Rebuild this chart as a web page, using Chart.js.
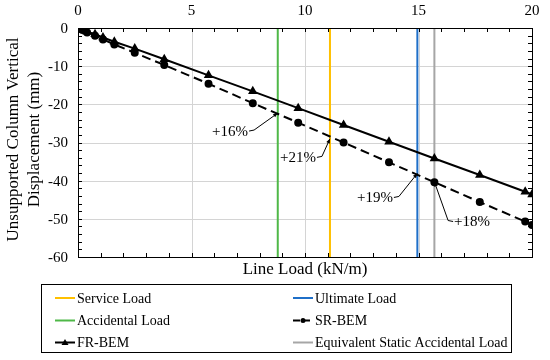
<!DOCTYPE html>
<html>
<head>
<meta charset="utf-8">
<script src="https://cdn.jsdelivr.net/npm/chart.js@4.4.0/dist/chart.umd.min.js"></script>
<style>
  html, body { margin: 0; padding: 0; background: #fff; }
  #wrap { width: 550px; height: 360px; }
</style>
</head>
<body>
<div id="wrap"><canvas id="chart" width="550" height="360"></canvas></div>
<script>
// line load (kN/m) at each analysis step
const loadSteps = [0, 0.1, 0.2, 0.4, 0.75, 1.1, 1.6, 2.5, 3.8, 5.75, 7.7, 9.7, 11.7, 13.7, 15.7, 17.7, 19.7, 20];
// vertical displacement (mm)
const frBem = [0, -0.2, -0.45, -0.95, -1.65, -2.5, -3.6, -5.4, -8.2, -12.4, -16.6, -21.0, -25.4, -29.8, -34.2, -38.5, -42.9, -43.6];
const srBem = [0, -0.25, -0.55, -1.15, -2.0, -3.0, -4.3, -6.5, -9.7, -14.6, -19.7, -24.8, -30.0, -35.2, -40.4, -45.6, -50.7, -51.6];

// reference load levels (kN/m)
const refNames = ['Service Load', 'Ultimate Load', 'Accidental Load', 'Equivalent Static Accidental Load'];
const refLoads = [11.1, 14.95, 8.8, 15.7];
const refColors = ['#ffc000', '#1f6fc8', '#4fb848', '#a6a6a6'];

const xTicks = [0, 5, 10, 15, 20];
const yTicks = [0, -10, -20, -30, -40, -50, -60];

// percentage call-outs: label, target point on SR-BEM, label anchor
const noteText = ['+16%', '+21%', '+19%', '+18%'];
const noteTargetX = [8.8, 11.1, 14.95, 15.7];
const noteTargetY = [-22.3, -29.0, -38.1, -40.3];
const noteLabelX = [6.7, 9.69, 13.08, 17.36];
const noteLabelY = [-27.0, -33.9, -44.4, -50.7];
const noteSide = ['left', 'left', 'left', 'right'];

const FONT = "'Liberation Serif', 'Times New Roman', serif";

const pts = (ys) => loadSteps.map((x, i) => ({x: x, y: ys[i]}));
const vline = (x) => [{x: x, y: 0}, {x: x, y: -60}];

const datasets = [
  {label: 'FR-BEM', data: pts(frBem), showLine: true, borderColor: '#000', backgroundColor: '#000',
    borderWidth: 2, pointStyle: 'triangle', pointRadius: 3.5, order: 1},
  {label: 'SR-BEM', data: pts(srBem), showLine: true, borderColor: '#000', backgroundColor: '#000',
    borderWidth: 2, borderDash: [9, 5], pointStyle: 'circle', pointRadius: 3, order: 2}
];
refNames.forEach((name, i) => {
  datasets.push({label: name, data: vline(refLoads[i]), showLine: true, borderColor: refColors[i],
    borderWidth: 2, pointRadius: 0, order: 10 + i});
});

// grid (behind everything), tick marks, tick labels and frame, placed through the chart's scales
function drawAxes(chart) {
  const {ctx, chartArea: a} = chart;
  const sx = chart.scales.x, sy = chart.scales.y;
  ctx.save();
  ctx.lineWidth = 1;
  ctx.globalCompositeOperation = 'destination-over';
  ctx.strokeStyle = '#d4d4d4';
  ctx.beginPath();
  xTicks.forEach(v => {
    const px = Math.round(sx.getPixelForValue(v)) + 0.5;
    ctx.moveTo(px, a.top); ctx.lineTo(px, a.bottom);
  });
  yTicks.forEach(v => {
    const py = Math.round(sy.getPixelForValue(v)) + 0.5;
    ctx.moveTo(a.left, py); ctx.lineTo(a.right, py);
  });
  ctx.stroke();
  ctx.globalCompositeOperation = 'source-over';

  ctx.strokeStyle = '#000';
  ctx.beginPath();
  for (let v = 0; v <= 20; v++) {
    const px = Math.round(sx.getPixelForValue(v)) + 0.5;
    ctx.moveTo(px, a.top); ctx.lineTo(px, a.top + 4);
    ctx.moveTo(px, a.bottom); ctx.lineTo(px, a.bottom - 4);
  }
  for (let v = 0; v >= -60; v -= 2) {
    const py = Math.round(sy.getPixelForValue(v)) + 0.5;
    ctx.moveTo(a.left, py); ctx.lineTo(a.left + 4, py);
    ctx.moveTo(a.right, py); ctx.lineTo(a.right - 4, py);
  }
  ctx.stroke();
  ctx.strokeRect(Math.round(a.left) + 0.5, Math.round(a.top) + 0.5,
    Math.round(a.right - a.left), Math.round(a.bottom - a.top));

  ctx.fillStyle = '#000';
  ctx.font = '15px ' + FONT;
  ctx.textAlign = 'center';
  ctx.textBaseline = 'alphabetic';
  xTicks.forEach(v => ctx.fillText(String(v), sx.getPixelForValue(v), a.top - 13));
  ctx.textAlign = 'right';
  ctx.textBaseline = 'middle';
  yTicks.forEach(v => ctx.fillText(String(v), a.left - 10, sy.getPixelForValue(v) + 1));
  ctx.restore();
}

function drawTitles(chart) {
  const {ctx, chartArea: a} = chart;
  ctx.save();
  ctx.fillStyle = '#000';
  ctx.font = '17px ' + FONT;
  ctx.textAlign = 'center';
  ctx.textBaseline = 'middle';
  ctx.fillText('Line Load (kN/m)', (a.left + a.right) / 2, 270);
  ctx.translate(0, (a.top + a.bottom) / 2 - 3);
  ctx.rotate(-Math.PI / 2);
  ctx.fillText('Unsupported Column Vertical', 0, 14);
  ctx.fillText('Displacement (mm)', 0, 35);
  ctx.restore();
}

function drawNotes(chart) {
  const {ctx} = chart;
  const sx = chart.scales.x, sy = chart.scales.y;
  ctx.save();
  ctx.font = '15px ' + FONT;
  ctx.fillStyle = '#000';
  ctx.strokeStyle = '#000';
  ctx.lineWidth = 1;
  ctx.textAlign = 'center';
  ctx.textBaseline = 'middle';
  noteText.forEach((t, i) => {
    const lx = sx.getPixelForValue(noteLabelX[i]);
    const ly = sy.getPixelForValue(noteLabelY[i]);
    const tx = sx.getPixelForValue(noteTargetX[i]);
    const ty = sy.getPixelForValue(noteTargetY[i]);
    const w = ctx.measureText(t).width;
    ctx.fillText(t, lx, ly + 1);
    const dir = noteSide[i] === 'left' ? 1 : -1;
    const x0 = lx + dir * (w / 2 + 1);
    const x1 = x0 + dir * 5;
    ctx.beginPath();
    ctx.moveTo(x0, ly);
    ctx.lineTo(x1, ly - 1);
    ctx.lineTo(tx, ty);
    ctx.stroke();
    const ang = Math.atan2(ty - ly + 1, tx - x1);
    ctx.beginPath();
    ctx.moveTo(tx, ty);
    ctx.lineTo(tx - 5 * Math.cos(ang - 0.4), ty - 5 * Math.sin(ang - 0.4));
    ctx.lineTo(tx - 5 * Math.cos(ang + 0.4), ty - 5 * Math.sin(ang + 0.4));
    ctx.closePath();
    ctx.fill();
  });
  ctx.restore();
}

function drawLegend(chart) {
  const {ctx} = chart;
  ctx.save();
  ctx.strokeStyle = '#000';
  ctx.lineWidth = 1;
  ctx.strokeRect(41.5, 284.5, 470, 68);
  ctx.font = '14px ' + FONT;
  ctx.textAlign = 'left';
  ctx.textBaseline = 'middle';
  const rows = [298, 320.5, 342.5];
  const cols = [55, 293];
  const items = [
    {name: refNames[0], color: refColors[0]},
    {name: refNames[1], color: refColors[1]},
    {name: refNames[2], color: refColors[2]},
    {name: 'SR-BEM', color: '#000', dash: true, marker: 'circle'},
    {name: 'FR-BEM', color: '#000', marker: 'triangle'},
    {name: refNames[3], color: refColors[3]}
  ];
  items.forEach((it, i) => {
    const cx = cols[i % 2];
    const cy = rows[Math.floor(i / 2)];
    ctx.strokeStyle = it.color;
    ctx.lineWidth = 2;
    ctx.setLineDash(it.dash ? [7, 3] : []);
    ctx.beginPath();
    ctx.moveTo(cx, cy);
    ctx.lineTo(cx + 20, cy);
    ctx.stroke();
    ctx.setLineDash([]);
    ctx.fillStyle = '#000';
    if (it.marker === 'circle') {
      ctx.beginPath();
      ctx.arc(cx + 10, cy, 2.5, 0, Math.PI * 2);
      ctx.fill();
    } else if (it.marker === 'triangle') {
      ctx.beginPath();
      ctx.moveTo(cx + 10, cy - 3.5);
      ctx.lineTo(cx + 13.5, cy + 2.5);
      ctx.lineTo(cx + 6.5, cy + 2.5);
      ctx.closePath();
      ctx.fill();
    }
    ctx.fillText(it.name, cx + 22, cy + 1);
  });
  ctx.restore();
}

const decor = {
  id: 'decor',
  afterDraw(chart) {
    drawTitles(chart);
    drawNotes(chart);
    drawLegend(chart);
    drawAxes(chart);
  }
};

new Chart(document.getElementById('chart'), {
  type: 'scatter',
  data: {datasets: datasets},
  plugins: [decor],
  options: {
    responsive: false,
    animation: false,
    layout: {padding: {left: 0, right: 18, top: 0, bottom: 103}},
    elements: {line: {tension: 0}},
    scales: {
      x: {
        type: 'linear', position: 'top', min: 0, max: 20,
        afterFit: (s) => { s.height = 28; },
        grid: {display: false},
        border: {display: false},
        ticks: {display: false}
      },
      y: {
        type: 'linear', min: -60, max: 0,
        afterFit: (s) => { s.width = 78; },
        grid: {display: false},
        border: {display: false},
        ticks: {display: false}
      }
    },
    plugins: {
      legend: {display: false},
      tooltip: {enabled: false}
    }
  }
});
</script>
</body>
</html>
